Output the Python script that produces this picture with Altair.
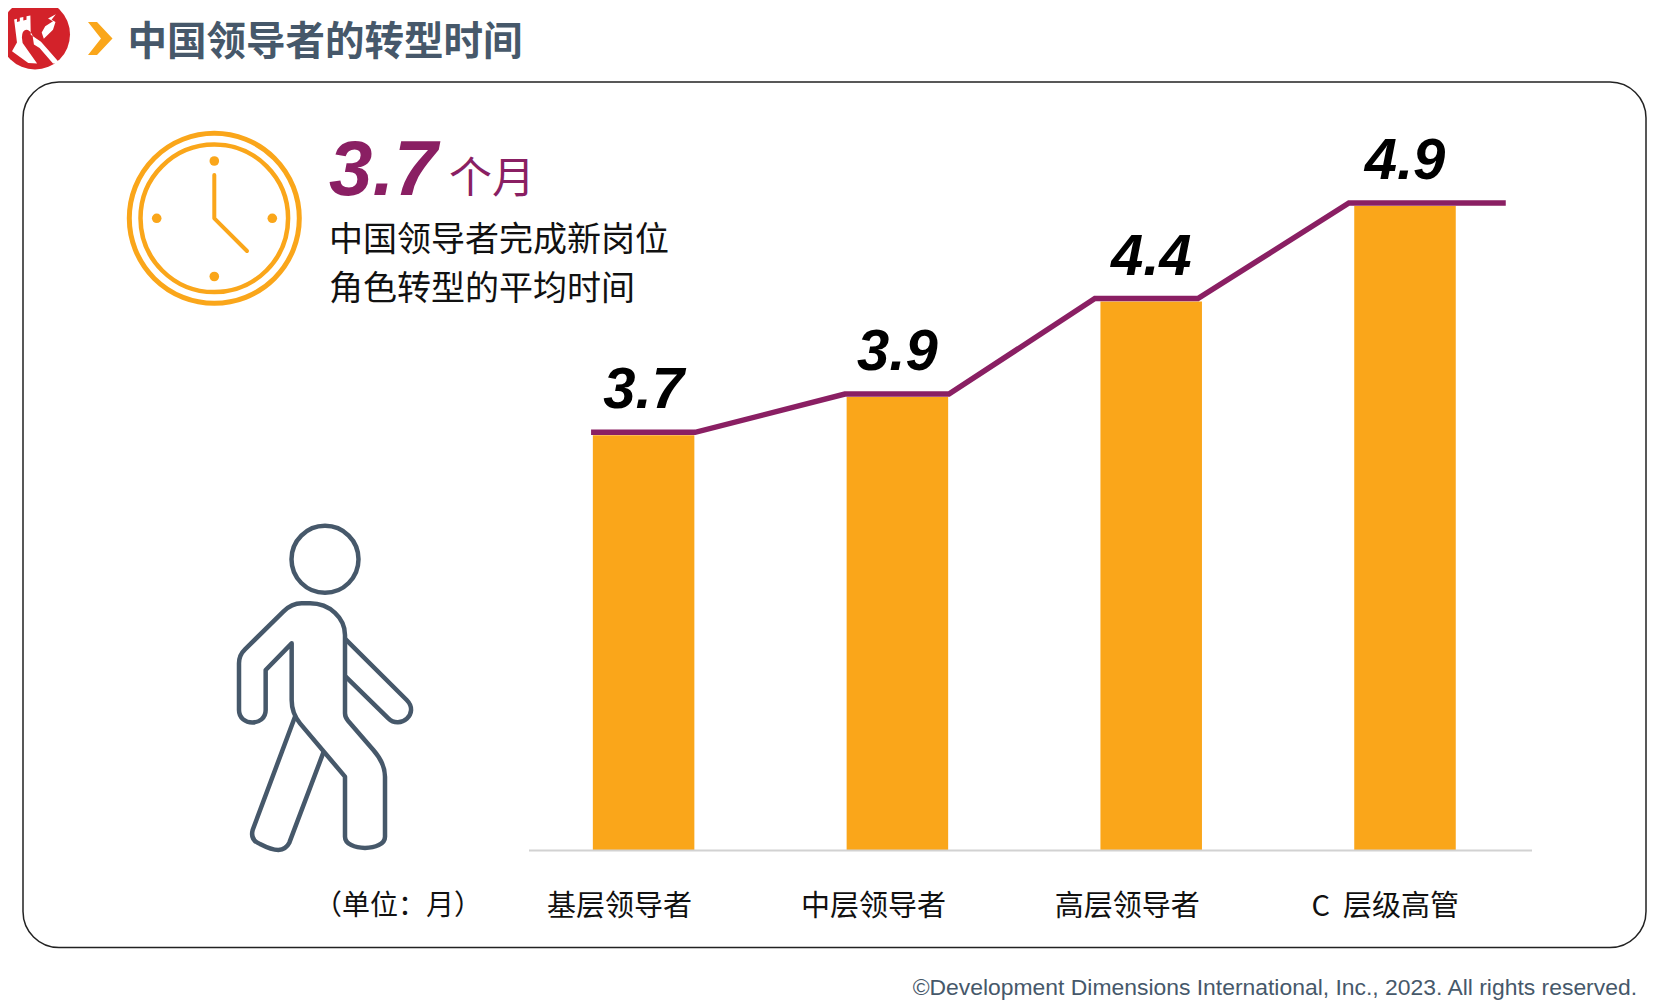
import altair as alt
import pandas as pd

# ---- chart values ----
categories = ["基层领导者", "中层领导者", "高层领导者", "C\u00a0\u00a0层级高管"]
values = [3.7, 3.9, 4.4, 4.9]
label_shift = [0, 0, 0, 0.017]
line_left = [-0.207, -0.207, -0.222, -0.221]
line_right = [0.203, 0.203, 0.184, 0.397]
BAR_HALF = 0.2

W, H = 1639, 993
OX, OY = 8, 8
ORANGE = "#faa61a"
PURPLE = "#8a1f63"
SLATE = "#46586a"
CJK = "Noto Sans CJK SC"
LAT = "Liberation Sans"

bars = pd.DataFrame({"cat": categories, "v": values, "i": range(len(values))})
bars["x0"] = bars["i"] - BAR_HALF
bars["x1"] = bars["i"] + BAR_HALF
bars["lx"] = bars["i"] + pd.Series(label_shift)
rows = []
for i, v in enumerate(values):
    rows.append({"p": i + line_left[i], "v": v})
    rows.append({"p": i + line_right[i], "v": v})
trend = pd.DataFrame(rows)

xs = alt.Scale(domain=[0, 3], range=[635.6, 1397], zero=False, nice=False)
ys = alt.Scale(domain=[1.53, 4.9], range=[842, 198], zero=False, nice=False)


def px(x):
    return alt.value(x - OX)


def py(y):
    return alt.value(y - OY)


def text(s, x, y, size, color, font=CJK, align="left", baseline="middle", weight="normal", style="normal"):
    return alt.Chart().mark_text(text=s, fontSize=size, color=color, font=font, align=align,
                                 baseline=baseline, fontWeight=weight, fontStyle=style
                                 ).encode(x=px(x), y=py(y))


def path(d, x, y, scale=1.0, stroke=None, width=1.0, fill=None):
    kw = dict(shape=d, opacity=1, strokeCap="round", strokeJoin="round")
    kw["filled"] = False
    kw["fill"] = fill if fill else "transparent"
    if stroke:
        kw["stroke"] = stroke
        kw["strokeWidth"] = width
    else:
        kw["strokeWidth"] = 0
    return alt.Chart().mark_point(**kw).encode(x=px(x), y=py(y), size=alt.value((2 * scale) ** 2))


def dot(x, y, r, fill):
    return alt.Chart().mark_point(shape="circle", filled=True, fill=fill, opacity=1, strokeWidth=0
                                  ).encode(x=px(x), y=py(y), size=alt.value((2 * r) ** 2))


def ring(x, y, r, color, width):
    return alt.Chart().mark_point(shape="circle", filled=False, stroke=color, strokeWidth=width, opacity=1
                                  ).encode(x=px(x), y=py(y), size=alt.value((2 * r) ** 2))


frame = alt.Chart().mark_rect(cornerRadius=36, fill="white", stroke="#222222", strokeWidth=1.5).encode(
    x=px(23), x2=px(1646), y=py(82), y2=py(947.5))

# logo
logo_bg = dot(35, 34.5, 35, "#d3222a")
wall = ("M40,55 L48,53 L48,62 L56,60 L56,50 L66,48 L66,58 L75,56 L75,46 L86,44 L87,98 L116,118 L170,180 L150,180 "
        "L112,136 L96,126 L92,100 Q85,84 74,84 Q62,86 62,106 L64,122 L105,180 L80,178 L34,145 L48,120 Z")
tower = "M118,92 L128,74 L150,60 L136,52 L158,40 L146,56 L157,62 L150,84 L124,110 Z"
SCL = 1 / 2.83
logo_wall = path(wall, 0, 0, SCL, fill="white")
logo_tower = path(tower, 0, 0, SCL, fill="white")
chevron = path("M88,22 L97,22 L112.5,38.5 L97,55 L88,55 L101,38.5 Z", 0, 0, 1, fill=ORANGE)

# clock
CX, CY = 214.3, 218.3
clock = [
    ring(CX, CY, 85, ORANGE, 5),
    ring(CX, CY, 73.8, ORANGE, 4.5),
    dot(CX, 161, 4.8, ORANGE), dot(CX, 276.5, 4.8, ORANGE),
    dot(156.7, CY, 4.8, ORANGE), dot(272.3, CY, 4.8, ORANGE),
    path("M214.3,175 L214.3,218.3 L247,251", 0, 0, 1, stroke=ORANGE, width=4),
]

# walking figure (path units: thirds of a pixel)
body = ("M275,430 L197,510 L197,630 C197,680 117,680 117,630 L117,490 Q117,465 135,448 L250,335 Q275,310 305,310 "
        "L330,310 C390,310 435,355 435,405 L435,640 Q435,652 444,662 L520,750 Q555,790 555,830 L555,1010 "
        "C555,1055 435,1055 435,1010 L435,830 L300,670 Q275,640 275,600 Z")
arm = "M437,418 L620,600 C660,640 600,690 565,655 L437,530"
leg = "M285,650 L158,990 Q150,1020 180,1032 Q215,1050 235,1050 Q258,1048 268,1028 L370,758"
person = [
    ring(325, 559.3, 33.5, SLATE, 4.5),
    path(body, 200, 500, 1 / 3, stroke=SLATE, width=4.5),
    path(arm, 200, 500, 1 / 3, stroke=SLATE, width=4.5),
    path(leg, 200, 500, 1 / 3, stroke=SLATE, width=4.5),
]

# data layers
bar_layer = alt.Chart(bars).mark_bar(color=ORANGE).encode(
    x=alt.X("x0:Q", scale=xs, axis=None), x2="x1:Q", y=alt.Y("v:Q", scale=ys, axis=None), y2=alt.value(842))
baseline = alt.Chart().mark_rule(color="#d2d2d2", strokeWidth=2).encode(
    x=px(529), x2=px(1532), y=py(850.5))
line_layer = alt.Chart(trend).mark_line(color=PURPLE, strokeWidth=5.5, strokeCap="butt", yOffset=-3, strokeJoin="miter").encode(
    x=alt.X("p:Q", scale=xs, axis=None), y=alt.Y("v:Q", scale=ys, axis=None), order="p:Q")
value_labels = alt.Chart(bars).mark_text(font=LAT, fontSize=58, fontWeight="bold", fontStyle="italic",
                                         color="black", baseline="alphabetic", dy=-27).encode(
    x=alt.X("i:Q", scale=xs, axis=None), y=alt.Y("v:Q", scale=ys, axis=None), text=alt.Text("v:Q", format=".1f"))
cat_labels = alt.Chart(bars).mark_text(font=CJK, fontSize=29, color="#111111", baseline="middle", dx=-24).encode(
    x=alt.X("lx:Q", scale=xs, axis=None), y=py(906.5), text="cat:N")

texts = [
    text("中国领导者的转型时间", 127.5, 42.5, 39.5, SLATE, weight="bold"),
    text("3.7", 329, 195, 78, PURPLE, font=LAT, baseline="alphabetic", weight="bold", style="italic"),
    text("个月", 449, 180, 43, PURPLE),
    text("中国领导者完成新岗位", 329, 241, 34, "#111111"),
    text("角色转型的平均时间", 329, 290, 34, "#111111"),
    text("（单位：月）", 398, 906.5, 28, "#111111", align="center"),
    text("©Development Dimensions International, Inc., 2023. All rights reserved.", 1637, 988, 22.9, SLATE,
         font=LAT, align="right"),
]

chart = alt.layer(
    frame, logo_bg, logo_wall, logo_tower, chevron, *clock, *person,
    bar_layer, baseline, line_layer, value_labels, cat_labels, *texts
).properties(width=W, height=H, padding=0, autosize=alt.AutoSizeParams(type="none"), background="white"
).configure_view(stroke=None)

chart.save("out.html", embed_options={"renderer": "svg", "actions": False})
